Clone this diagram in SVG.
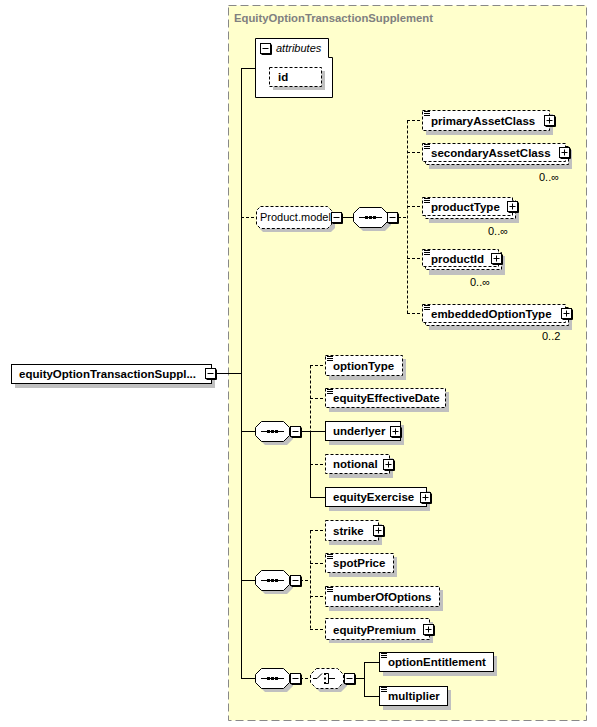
<svg xmlns="http://www.w3.org/2000/svg" xmlns:xlink="http://www.w3.org/1999/xlink" width="597" height="727" viewBox="0 0 597 727">
<style>
.bx{fill:#fff;stroke:#000;stroke-width:1}
.op{stroke-dasharray:3,2}
.sh{fill:#c0c0c0;stroke:none}
.t{font-family:"Liberation Sans",Arial,sans-serif;font-size:11.5px;font-weight:bold;fill:#000}
.ti{font-family:"Liberation Sans",Arial,sans-serif;font-size:11.3px;font-weight:bold;fill:#808080}
.n{font-family:"Liberation Sans",Arial,sans-serif;font-size:11px;fill:#000}
.ln{stroke:#000;stroke-width:1;fill:none}
.dl{stroke-dasharray:3,2}
.doc{stroke:#000;stroke-width:1;fill:none}
</style>
<defs>
<g id="plus"><rect x="0.5" y="0.5" width="10" height="10" fill="#fff" stroke="#000"/><path d="M11.5 1.5V11.5H1.5" stroke="#000" fill="none"/><path d="M2.5 5.5H8.5M5.5 2.5V8.5" stroke="#000"/></g>
<g id="minus"><rect x="0.5" y="0.5" width="10" height="10" fill="#fff" stroke="#000"/><path d="M11.5 1.5V11.5H1.5" stroke="#000" fill="none"/><path d="M2.5 5.5H8.5" stroke="#000"/></g>
<g id="seq"><path class="sh" d="M10 4H32L38 10V18L32 24H10L4 18V10Z"/><path class="bx" d="M6.5 0.5H28.5L34.5 6.5V14.5L28.5 20.5H6.5L0.5 14.5V6.5Z"/><path d="M6 10.5H29" stroke="#000"/><rect x="12" y="9" width="3" height="3"/><rect x="16" y="9" width="3" height="3"/><rect x="20" y="9" width="3" height="3"/></g>
<g id="choice"><path class="sh" d="M10 4H31L37 10V18L31 24H10L4 18V10Z"/><path class="bx op" d="M6.5 0.5H27.5L33.5 6.5V14.5L27.5 20.5H6.5L0.5 14.5V6.5Z"/><path d="M3 10.5H7L12 5.5M15.5 5.5H18.5V15.5H15.5M18.5 10.5H25" stroke="#000" fill="none"/><rect x="14" y="5" width="2" height="2"/><rect x="14" y="9.5" width="2" height="2"/><rect x="14" y="14" width="2" height="2"/></g>
</defs>

<rect x="228.5" y="5.5" width="358" height="715" fill="#ffffcc" stroke="#888" stroke-dasharray="8,4"/>
<text x="234" y="22" class="ti">EquityOptionTransactionSupplement</text>

<g id="connectors">
<path class="ln" d="M216 373.5H241.5M241.5 68V679M241 68.5H255M241 431.5H255M241 580.5H255M241 678.5H255"/>
<path class="ln dl" d="M241 217.5H256"/>
<path class="ln" d="M342 217.5H353"/>
<path class="ln dl" d="M398 217.5H407.5M407.5 120.5V313.5M407 120.5H422M407 152.5H422M407 206.5H422M407 258.5H422M407 313.5H422"/>
<path class="ln" d="M300 431.5H310.5M310.5 431V497.5M310 431.5H325M310 497.5H325"/>
<path class="ln dl" d="M310.5 365.5V431M310 365.5H325M310 398.5H325M310 464.5H325"/>
<path class="ln dl" d="M300 580.5H310.5M310.5 530.5V629.5M310 530.5H325M310 563.5H325M310 596.5H325M310 629.5H325"/>
<path class="ln dl" d="M300 678.5H310"/>
<path class="ln" d="M355 678.5H364.5M364.5 662V697M364 662.5H379M364 696.5H379"/>
</g>

<g id="root">
<rect class="sh" x="15" y="368" width="200" height="20"/>
<rect class="bx" x="11.5" y="364.5" width="200" height="19"/>
<text x="19" y="378" class="t">equityOptionTransactionSuppl...</text>
<use xlink:href="#minus" x="205" y="368"/>
</g>

<g id="attributes">
<path class="bx" d="M255.5 38.5H328.5V57.5H332.5V97.5H255.5Z"/>
<use xlink:href="#minus" x="260" y="43"/>
<text x="276" y="52" class="n" font-style="italic">attributes</text>
<g id="attr-id">
<rect class="sh" x="273" y="71" width="52" height="19"/>
<rect class="bx op" x="269.5" y="67.5" width="52" height="19"/>
<text x="278" y="81" class="t">id</text>
</g>
</g>

<g id="product-model">
<path class="sh" d="M263 210H331L335 214V228L331 232H263L259 228V214Z"/>
<path class="bx op" d="M260.5 206.5H327.5L331.5 210.5V224.5L327.5 228.5H260.5L256.5 224.5V210.5Z"/>
<text x="260" y="221" class="n">Product.model</text>
<use xlink:href="#minus" x="331" y="212"/>
</g>

<g id="seq-product"><use xlink:href="#seq" x="353" y="207"/><use xlink:href="#minus" x="387" y="212"/></g>

<g id="primaryAssetClass">
<rect class="sh" x="426" y="114" width="127" height="21"/>
<rect class="bx op" x="422.5" y="110.5" width="127" height="20"/>
<path class="doc" d="M424 111.5H430M424 113.5H430M424 115.5H430"/>
<text x="431" y="125" class="t">primaryAssetClass</text>
<use xlink:href="#plus" x="544" y="115"/>
</g>

<g id="secondaryAssetClass">
<rect class="sh" x="429" y="150" width="143" height="19"/>
<rect class="bx op" x="425.5" y="146.5" width="143" height="18"/>
<rect class="bx op" x="422.5" y="143.5" width="143" height="18"/>
<path class="doc" d="M424 144.5H430M424 146.5H430M424 148.5H430"/>
<text x="431" y="157" class="t">secondaryAssetClass</text>
<use xlink:href="#plus" x="559" y="147"/>
<text x="539" y="181" class="n">0..∞</text>
</g>

<g id="productType">
<rect class="sh" x="429" y="204" width="90" height="19"/>
<rect class="bx op" x="425.5" y="200.5" width="90" height="18"/>
<rect class="bx op" x="422.5" y="197.5" width="90" height="18"/>
<path class="doc" d="M424 198.5H430M424 200.5H430M424 202.5H430"/>
<text x="431" y="211" class="t">productType</text>
<use xlink:href="#plus" x="507" y="201"/>
<text x="488" y="235" class="n">0..∞</text>
</g>

<g id="productId">
<rect class="sh" x="429" y="256" width="76" height="19"/>
<rect class="bx op" x="425.5" y="252.5" width="76" height="17"/>
<rect class="bx op" x="422.5" y="249.5" width="76" height="17"/>
<path class="doc" d="M424 250.5H430M424 252.5H430M424 254.5H430"/>
<text x="431" y="263" class="t">productId</text>
<use xlink:href="#plus" x="491" y="253"/>
<text x="470" y="286" class="n">0..∞</text>
</g>

<g id="embeddedOptionType">
<rect class="sh" x="429" y="311" width="143" height="19"/>
<rect class="bx op" x="425.5" y="307.5" width="143" height="18"/>
<rect class="bx op" x="422.5" y="304.5" width="143" height="18"/>
<path class="doc" d="M424 305.5H430M424 307.5H430M424 309.5H430"/>
<text x="431" y="318" class="t">embeddedOptionType</text>
<use xlink:href="#plus" x="561" y="308"/>
<text x="542" y="340" class="n">0..2</text>
</g>

<g id="seq-2"><use xlink:href="#seq" x="255" y="421"/><use xlink:href="#minus" x="290" y="426"/></g>

<g id="optionType">
<rect class="sh" x="329" y="359" width="77" height="21"/>
<rect class="bx op" x="325.5" y="355.5" width="77" height="20"/>
<path class="doc" d="M327 356.5H333M327 358.5H333M327 360.5H333"/>
<text x="333" y="370" class="t">optionType</text>
</g>

<g id="equityEffectiveDate">
<rect class="sh" x="329" y="392" width="120" height="20"/>
<rect class="bx op" x="325.5" y="388.5" width="120" height="19"/>
<path class="doc" d="M327 389.5H333M327 391.5H333M327 393.5H333"/>
<text x="333" y="402" class="t">equityEffectiveDate</text>
</g>

<g id="underlyer">
<rect class="sh" x="329" y="425" width="75" height="20"/>
<rect class="bx" x="325.5" y="421.5" width="75" height="19"/>
<text x="333" y="435" class="t">underlyer</text>
<use xlink:href="#plus" x="390" y="426"/>
</g>

<g id="notional">
<rect class="sh" x="329" y="458" width="64" height="20"/>
<rect class="bx op" x="325.5" y="454.5" width="64" height="19"/>
<text x="333" y="468" class="t">notional</text>
<use xlink:href="#plus" x="383" y="459"/>
</g>

<g id="equityExercise">
<rect class="sh" x="329" y="491" width="101" height="20"/>
<rect class="bx" x="325.5" y="487.5" width="101" height="19"/>
<text x="333" y="501" class="t">equityExercise</text>
<use xlink:href="#plus" x="420" y="492"/>
</g>

<g id="seq-3"><use xlink:href="#seq" x="255" y="570"/><use xlink:href="#minus" x="290" y="575"/></g>

<g id="strike">
<rect class="sh" x="329" y="524" width="53" height="21"/>
<rect class="bx op" x="325.5" y="520.5" width="53" height="20"/>
<text x="333" y="535" class="t">strike</text>
<use xlink:href="#plus" x="373" y="525"/>
</g>

<g id="spotPrice">
<rect class="sh" x="329" y="557" width="68" height="20"/>
<rect class="bx op" x="325.5" y="553.5" width="68" height="19"/>
<path class="doc" d="M327 554.5H333M327 556.5H333M327 558.5H333"/>
<text x="333" y="567" class="t">spotPrice</text>
</g>

<g id="numberOfOptions">
<rect class="sh" x="329" y="590" width="114" height="21"/>
<rect class="bx op" x="325.5" y="586.5" width="114" height="20"/>
<path class="doc" d="M327 587.5H333M327 589.5H333M327 591.5H333"/>
<text x="333" y="601" class="t">numberOfOptions</text>
</g>

<g id="equityPremium">
<rect class="sh" x="329" y="622" width="104" height="21"/>
<rect class="bx op" x="325.5" y="618.5" width="104" height="21"/>
<text x="333" y="634" class="t">equityPremium</text>
<use xlink:href="#plus" x="423" y="624"/>
</g>

<g id="seq-4"><use xlink:href="#seq" x="255" y="668"/><use xlink:href="#minus" x="290" y="673"/></g>

<g id="choice-1"><use xlink:href="#choice" x="310" y="668"/><use xlink:href="#minus" x="344" y="673"/></g>

<g id="optionEntitlement">
<rect class="sh" x="383" y="656" width="114" height="20"/>
<rect class="bx" x="379.5" y="652.5" width="114" height="19"/>
<path class="doc" d="M381 653.5H387M381 655.5H387M381 657.5H387"/>
<text x="388" y="666" class="t">optionEntitlement</text>
</g>

<g id="multiplier">
<rect class="sh" x="383" y="690" width="68" height="20"/>
<rect class="bx" x="379.5" y="686.5" width="68" height="19"/>
<path class="doc" d="M381 687.5H387M381 689.5H387M381 691.5H387"/>
<text x="388" y="700" class="t">multiplier</text>
</g>
</svg>
